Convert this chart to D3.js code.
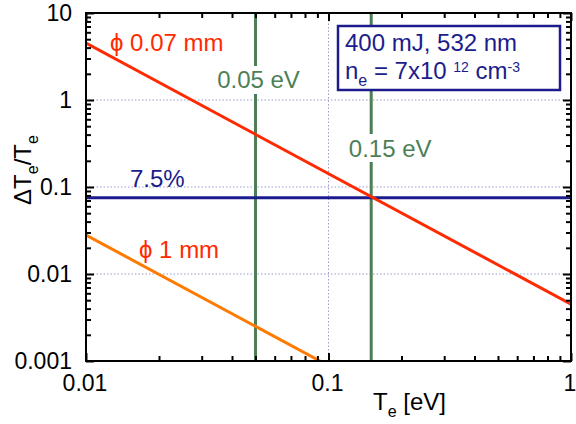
<!DOCTYPE html>
<html><head><meta charset="utf-8">
<script src="https://cdn.jsdelivr.net/npm/d3@7"></script>
<style>body{margin:0;background:#fff}svg{display:block}text{font-family:"Liberation Sans",Arial,sans-serif}</style>
</head><body><svg id="c" width="576" height="424"></svg>
<script>
// Data
const teSmallSpot = [0.01, 1];          // phi 0.07 mm
const dSmallSpot = [4.5, 0.0045];
const teLargeSpot = [0.01, 0.0922];     // phi 1 mm
const dLargeSpot = [0.028, 0.001];
const thresholdLevel = 0.075;           // 7.5%
const markerTe = [0.05, 0.15];
const markerLabels = ["0.05 eV", "0.15 eV"];
const xTickValues = [0.01, 0.1, 1];
const xTickLabels = ["0.01", "0.1", "1"];
const yTickValues = [0.001, 0.01, 0.1, 1, 10];
const yTickLabels = ["0.001", "0.01", "0.1", "1", "10"];

const svg = d3.select("#c");
const L = 86, R = 571, T = 13, B = 361;
const x = d3.scaleLog().domain([0.01, 1]).range([L, R]);
const y = d3.scaleLog().domain([0.001, 10]).range([B, T]);

const RED = "#ff2a00", ORANGE = "#ff7a00", NAVY = "#1c1c8c", GREEN = "#4d7f57", GRID = "#9a9ad0";
const FS = 24, TFS = 23, SFS = 16;

// minor tick values
const minorX = [], minorY = [];
for (let d = -2; d < 0; d++) for (let k = 2; k <= 9; k++) minorX.push(k * Math.pow(10, d));
for (let d = -3; d < 1; d++) for (let k = 2; k <= 9; k++) minorY.push(k * Math.pow(10, d));

// grid
const g = svg.append("g");
g.selectAll(".gx").data([0.1]).enter().append("line")
  .attr("x1", d => x(d)).attr("x2", d => x(d)).attr("y1", T).attr("y2", B)
  .attr("stroke", GRID).attr("stroke-width", 1).attr("stroke-dasharray", "1.5,2");
g.selectAll(".gy").data([0.01, 0.1, 1]).enter().append("line")
  .attr("y1", d => y(d)).attr("y2", d => y(d)).attr("x1", L).attr("x2", R)
  .attr("stroke", GRID).attr("stroke-width", 1).attr("stroke-dasharray", "1.5,2");

svg.append("clipPath").attr("id", "clip").append("rect")
  .attr("x", L).attr("y", T).attr("width", R - L).attr("height", B - T);

const plot = svg.append("g").attr("clip-path", "url(#clip)");
const line = d3.line().x(d => x(d[0])).y(d => y(d[1]));

// green vertical lines
plot.selectAll(".vm").data(markerTe).enter().append("line")
  .attr("x1", d => x(d)).attr("x2", d => x(d)).attr("y1", T).attr("y2", B)
  .attr("stroke", GREEN).attr("stroke-width", 3);

// threshold line
plot.append("line").attr("x1", L).attr("x2", R)
  .attr("y1", y(thresholdLevel)).attr("y2", y(thresholdLevel))
  .attr("stroke", NAVY).attr("stroke-width", 3);

// curves
plot.append("path").datum(d3.zip(teLargeSpot, dLargeSpot)).attr("d", line)
  .attr("fill", "none").attr("stroke", ORANGE).attr("stroke-width", 3);
plot.append("path").datum(d3.zip(teSmallSpot, dSmallSpot)).attr("d", line)
  .attr("fill", "none").attr("stroke", RED).attr("stroke-width", 3);

// axes with inward ticks
function axisG(axisFn, tx, ty, vals, len) {
  const a = axisFn.tickValues(vals).tickSize(len).tickFormat("");
  const gg = svg.append("g").attr("transform", `translate(${tx},${ty})`).call(a);
  gg.select(".domain").remove();
  gg.selectAll("line").attr("stroke", "#000").attr("stroke-width", 2);
  return gg;
}
const MAJ = 8, MIN = 5;
axisG(d3.axisTop(x), 0, B, xTickValues, MAJ);
axisG(d3.axisTop(x), 0, B, minorX, MIN);
axisG(d3.axisBottom(x), 0, T, xTickValues, MAJ);
axisG(d3.axisBottom(x), 0, T, minorX, MIN);
axisG(d3.axisRight(y), L, 0, yTickValues, MAJ);
axisG(d3.axisRight(y), L, 0, minorY, MIN);
axisG(d3.axisLeft(y), R, 0, yTickValues, MAJ);
axisG(d3.axisLeft(y), R, 0, minorY, MIN);

svg.append("rect").attr("x", L).attr("y", T).attr("width", R - L).attr("height", B - T)
  .attr("fill", "none").attr("stroke", "#000").attr("stroke-width", 2);

// tick labels
svg.selectAll(".yl").data(yTickValues).enter().append("text")
  .attr("x", 72).attr("y", d => y(d) + 8).attr("text-anchor", "end")
  .attr("font-size", TFS).attr("fill", "#000").text((d, i) => yTickLabels[i]);
svg.selectAll(".xl").data(xTickValues).enter().append("text")
  .attr("x", d => x(d) - 1).attr("y", 391).attr("text-anchor", "middle")
  .attr("font-size", TFS).attr("fill", "#000").text((d, i) => xTickLabels[i]);

// axis titles
const xt = svg.append("text").attr("x", 373).attr("y", 410).attr("font-size", FS).attr("fill", "#000");
xt.append("tspan").text("T");
xt.append("tspan").attr("font-size", SFS).attr("dy", 7).text("e");
xt.append("tspan").attr("dy", -7).text(" [eV]");

const yt = svg.append("text").attr("transform", "translate(31,170) rotate(-90)")
  .attr("text-anchor", "middle").attr("font-size", FS).attr("fill", "#000");
yt.append("tspan").text("ΔT");
yt.append("tspan").attr("font-size", SFS).attr("dy", 7).text("e");
yt.append("tspan").attr("dy", -7).text("/T");
yt.append("tspan").attr("font-size", SFS).attr("dy", 7).text("e");

// marker labels with white backgrounds (label centre offset from the line)
const mlPos = [[x(markerTe[0]), 3, 88, 66, 94], [x(markerTe[1]), 19, 157, 134, 162]];
markerLabels.forEach((lab, i) => {
  const [cx, off, base, top, bot] = mlPos[i];
  svg.append("rect").attr("x", cx - 6).attr("y", top).attr("width", 12).attr("height", bot - top).attr("fill", "#fff");
  svg.append("text").attr("x", cx + off).attr("y", base).attr("text-anchor", "middle")
    .attr("font-size", FS).attr("fill", GREEN).text(lab);
});

// curve labels
svg.append("text").attr("x", 110).attr("y", 51).attr("font-size", FS).attr("fill", RED).text("ϕ 0.07 mm");
svg.append("text").attr("x", 139).attr("y", 258).attr("font-size", FS).attr("fill", RED).text("ϕ 1 mm");
svg.append("text").attr("x", 130).attr("y", 187).attr("font-size", FS).attr("fill", NAVY).text("7.5%");

// info box
svg.append("rect").attr("x", 338).attr("y", 26).attr("width", 222).attr("height", 64)
  .attr("fill", "#fff").attr("stroke", NAVY).attr("stroke-width", 2.5);
svg.append("text").attr("x", 345).attr("y", 51).attr("font-size", FS).attr("fill", NAVY).text("400 mJ, 532 nm");
const bt = svg.append("text").attr("x", 345).attr("y", 79).attr("font-size", FS).attr("fill", NAVY);
bt.append("tspan").text("n");
bt.append("tspan").attr("font-size", SFS).attr("dy", 7).text("e");
bt.append("tspan").attr("dy", -7).text(" = 7x10 ");
bt.append("tspan").attr("font-size", 14).attr("dy", -7).text("12");
bt.append("tspan").attr("dy", 7).text(" cm");
bt.append("tspan").attr("font-size", 14).attr("dy", -7).text("-3");
</script></body></html>
